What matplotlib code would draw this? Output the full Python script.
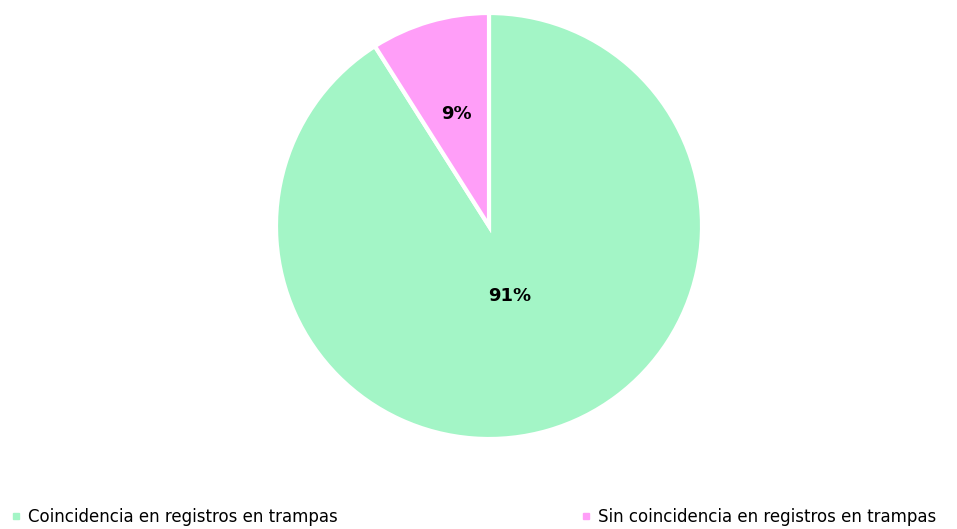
import numpy as np
import matplotlib.pyplot as plt
from matplotlib.lines import Line2D

labels = ['Coincidencia en registros en trampas', 'Sin coincidencia en registros en trampas']
values = [91, 9]
colors = ['#A3F5C6', '#FF9EF8']
label_dist = [0.34, 0.55]

plt.rcParams['font.family'] = ['DejaVu Sans']

fig = plt.figure(figsize=(9.57, 5.29), dpi=100)
W, H = 957, 529
cx, cy, r = 489, 226, 213
ax = fig.add_axes([(cx - r) / W, (H - cy - r) / H, 2 * r / W, 2 * r / H])

wedges, _ = ax.pie(values, colors=colors, startangle=90, counterclock=False,
                   wedgeprops=dict(edgecolor='white', linewidth=3))
ax.set_xlim(-1, 1)
ax.set_ylim(-1, 1)
ax.set_aspect('equal')

# percentage labels at the middle angle of each wedge
for w, v, d in zip(wedges, values, label_dist):
    ang = np.deg2rad((w.theta1 + w.theta2) / 2)
    ax.text(d * np.cos(ang), d * np.sin(ang), f'{v}%', ha='center', va='center',
            fontsize=13, fontweight='bold', color='black')

handles = [Line2D([], [], marker='s', linestyle='none', markersize=5,
                  markerfacecolor=c, markeredgecolor=c) for c in colors]
fig.legend(handles, labels, loc='lower left', bbox_to_anchor=(-0.004, -0.022), ncol=2,
           frameon=False, fontsize=12, handlelength=0.6, handletextpad=0.4,
           columnspacing=14.6)

fig.savefig('out.png', dpi=100)
